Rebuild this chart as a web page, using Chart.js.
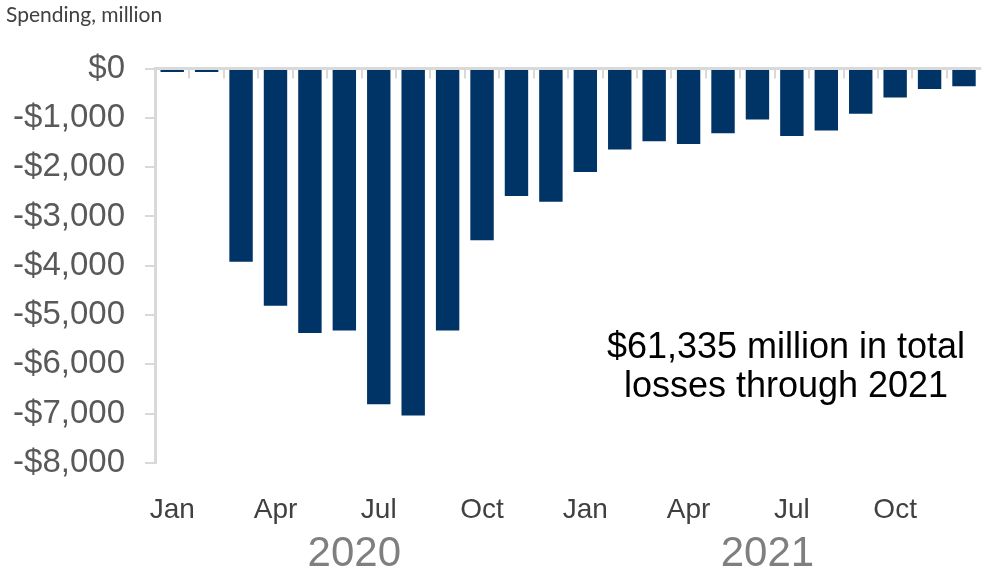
<!DOCTYPE html>
<html>
<head>
<meta charset="utf-8">
<script src="https://cdn.jsdelivr.net/npm/chart.js@4"></script>
<style>
    body { margin: 0; background: #fff; }
    #wrap { width: 986px; height: 570px; position: relative; }
</style>
</head>
<body>
<div id="wrap"><canvas id="spendingChart"></canvas></div>
<script>
const months = ['Jan', 'Feb', 'Mar', 'Apr', 'May', 'Jun', 'Jul', 'Aug', 'Sep', 'Oct', 'Nov', 'Dec',
    'Jan', 'Feb', 'Mar', 'Apr', 'May', 'Jun', 'Jul', 'Aug', 'Sep', 'Oct', 'Nov', 'Dec'];
const years = ['2020', '2021'];
const spending2020 = [-70, -70, -3920, -4810, -5365, -5310, -6810, -7035, -5310, -3480, -2585, -2700];
const spending2021 = [-2095, -1640, -1475, -1530, -1310, -1030, -1365, -1255, -915, -585, -415, -360];
const yTicks = [0, -1000, -2000, -3000, -4000, -5000, -6000, -7000, -8000];
const noteLines = ['$61,335 million in total', 'losses through 2021'];

const spending = spending2020.concat(spending2021);

// year label sits under the middle of its 12 months
const yearLabels = months.map(function (m, i) {
    return i % 12 === 5 ? years[Math.floor(i / 12)] : '';
});

const axisGrey = '#d9d9d9';
const fontFamily = '"Liberation Sans", Arial, sans-serif';

// zero line with the little category ticks under it, plus the note
const frame = {
    id: 'frame',
    afterDatasetsDraw(chart) {
        const ctx = chart.ctx;
        const area = chart.chartArea;
        const x = chart.scales.x;
        const y = chart.scales.y;
        const y0 = y.getPixelForValue(0);
        const step = x.getPixelForValue(1) - x.getPixelForValue(0);
        ctx.save();
        ctx.strokeStyle = axisGrey;
        ctx.lineWidth = 2;
        for (let i = 1; i < months.length; i++) {
            const px = Math.round(x.getPixelForValue(i) - step / 2);
            ctx.beginPath();
            ctx.moveTo(px, y0);
            ctx.lineTo(px, y0 + 10);
            ctx.stroke();
        }
        ctx.lineWidth = 3;
        ctx.beginPath();
        ctx.moveTo(area.left, y0);
        ctx.lineTo(area.right, y0);
        ctx.stroke();

        ctx.fillStyle = '#000';
        ctx.font = '36px ' + fontFamily;
        ctx.textAlign = 'center';
        ctx.textBaseline = 'alphabetic';
        ctx.fillText(noteLines[0], 786, 358);
        ctx.fillText(noteLines[1], 786, 397);
        ctx.restore();
    }
};

new Chart(document.getElementById('spendingChart'), {
    type: 'bar',
    data: {
        labels: months,
        datasets: [{
            label: 'Spending',
            data: spending,
            backgroundColor: '#003366',
            barPercentage: 0.68,
            categoryPercentage: 1.0
        }]
    },
    options: {
        responsive: true,
        maintainAspectRatio: false,
        animation: false,
        layout: { padding: { left: 6, top: 0, right: 0, bottom: 0 } },
        plugins: {
            legend: { display: false },
            tooltip: { enabled: false },
            title: {
                display: true,
                text: 'Spending, million',
                align: 'start',
                color: '#404040',
                font: { family: 'Lato', size: 21, weight: 'normal' },
                padding: { top: 3, bottom: 40.4 }
            }
        },
        scales: {
            x: {
                position: 'bottom',
                grid: { display: false },
                border: { display: false },
                ticks: {
                    autoSkip: false,
                    maxRotation: 0,
                    padding: 22,
                    color: '#404040',
                    font: { family: fontFamily, size: 28 },
                    callback: function (v, i) {
                        return i % 3 === 0 ? months[i] : '';
                    }
                },
                afterFit: function (s) { s.height = 62; }
            },
            year: {
                type: 'category',
                labels: yearLabels,
                position: 'bottom',
                offset: true,
                grid: { display: false },
                border: { display: false },
                ticks: {
                    autoSkip: false,
                    maxRotation: 0,
                    padding: -4,
                    labelOffset: 10,
                    color: '#7f7f7f',
                    font: { family: fontFamily, size: 42 }
                },
                afterFit: function (s) { s.height = 45; }
            },
            y: {
                min: yTicks[yTicks.length - 1],
                max: yTicks[0],
                afterBuildTicks: function (s) {
                    s.ticks = yTicks.map(function (v) { return { value: v }; });
                },
                grid: {
                    display: true,
                    drawOnChartArea: false,
                    drawTicks: true,
                    tickLength: 10,
                    color: axisGrey,
                    lineWidth: 2
                },
                border: { display: true, color: axisGrey, width: 3 },
                ticks: {
                    padding: 20,
                    color: '#595959',
                    font: { family: fontFamily, size: 33 },
                    callback: function (v) {
                        return v === 0 ? '$0' : '-$' + Math.abs(v).toLocaleString('en-US');
                    }
                },
                afterFit: function (s) { s.width = 149; }
            }
        }
    },
    plugins: [frame]
});
</script>
</body>
</html>
